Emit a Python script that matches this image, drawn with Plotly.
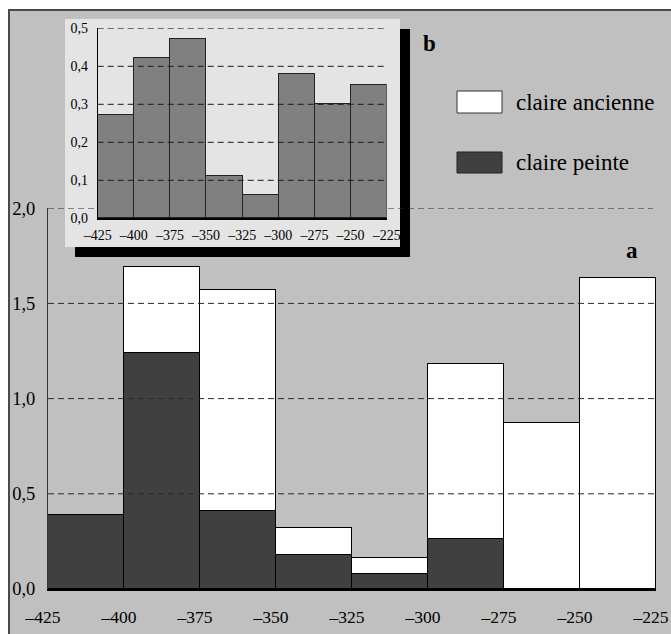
import plotly.graph_objects as go

# ---- data ----
bin_edges = [-425, -400, -375, -350, -325, -300, -275, -250, -225]
claire_peinte = [0.39, 1.24, 0.41, 0.18, 0.08, 0.26, 0.0, 0.0]
claire_ancienne = [0.0, 0.45, 1.16, 0.14, 0.08, 0.92, 0.87, 1.63]
inset_values = [0.27, 0.42, 0.47, 0.11, 0.06, 0.38, 0.30, 0.35]
main_yticks = [0.0, 0.5, 1.0, 1.5, 2.0]
main_yticklabels = ["0,0", "0,5", "1,0", "1,5", "2,0"]
inset_yticks = [0.0, 0.1, 0.2, 0.3, 0.4, 0.5]
inset_yticklabels = ["0,0", "0,1", "0,2", "0,3", "0,4", "0,5"]
xtick_labels = ["–425", "–400", "–375", "–350", "–325", "–300", "–275", "–250", "–225"]

W, H = 671, 634
def px(x): return x / W
def py(y): return 1 - y / H

centers = [(a + b) / 2 for a, b in zip(bin_edges[:-1], bin_edges[1:])]
widths = [b - a for a, b in zip(bin_edges[:-1], bin_edges[1:])]

FONT = "Liberation Serif, Times New Roman, serif"

fig = go.Figure()
fig.add_trace(go.Bar(x=centers, y=claire_peinte, width=widths, name="claire peinte",
                     marker=dict(color="#404040", line=dict(color="#000", width=1)),
                     xaxis="x", yaxis="y", showlegend=False))
fig.add_trace(go.Bar(x=centers, y=claire_ancienne, width=widths, name="claire ancienne",
                     marker=dict(color="#ffffff", line=dict(color="#000", width=1)),
                     xaxis="x", yaxis="y", showlegend=False))
fig.add_trace(go.Bar(x=centers, y=inset_values, width=widths, name="inset",
                     marker=dict(color="#808080", line=dict(color="#222", width=1)),
                     xaxis="x2", yaxis="y2", showlegend=False))

DASH = "6px,4px"
shapes = []
# outer gray frame
shapes.append(dict(type="rect", xref="paper", yref="paper", x0=px(9), x1=px(690), y0=py(660), y1=py(10),
                   fillcolor="#c0c0c0", line=dict(color="#4a4a4a", width=2), layer="below"))
# 2,0 gridline (under the inset)
shapes.append(dict(type="line", xref="x", yref="y", x0=bin_edges[0], x1=bin_edges[-1] - 1,
                   y0=main_yticks[-1], y1=main_yticks[-1],
                   line=dict(color="#2a2a2a", width=1, dash=DASH), layer="below"))
# inset shadow + panel
shapes.append(dict(type="rect", xref="paper", yref="paper", x0=px(75), x1=px(410), y0=py(257), y1=py(29),
                   fillcolor="#000", line=dict(width=0), layer="below"))
shapes.append(dict(type="rect", xref="paper", yref="paper", x0=px(65), x1=px(400), y0=py(247), y1=py(19),
                   fillcolor="#e4e4e4", line=dict(width=0), layer="below"))
# main gridlines above bars
for v in main_yticks[1:-1]:
    shapes.append(dict(type="line", xref="x", yref="y", x0=bin_edges[0], x1=bin_edges[-1],
                       y0=v, y1=v, line=dict(color="#2a2a2a", width=1, dash=DASH), layer="above"))
# inset gridlines
for v in inset_yticks[1:]:
    shapes.append(dict(type="line", xref="x2", yref="y2", x0=bin_edges[0], x1=bin_edges[-1] - 1,
                       y0=v, y1=v, line=dict(color="#1a1a1a", width=1, dash=DASH), layer="above"))
# legend boxes
shapes.append(dict(type="rect", xref="paper", yref="paper", x0=px(457), x1=px(502), y0=py(113), y1=py(91),
                   fillcolor="#ffffff", line=dict(color="#333", width=1)))
shapes.append(dict(type="rect", xref="paper", yref="paper", x0=px(457), x1=px(502), y0=py(173), y1=py(152),
                   fillcolor="#404040", line=dict(color="#222", width=1)))

annotations = [
    dict(text="claire ancienne", x=px(514), y=py(102), xref="paper", yref="paper", xanchor="left",
         yanchor="middle", showarrow=False, font=dict(family=FONT, size=23, color="#000")),
    dict(text="claire peinte", x=px(514), y=py(163), xref="paper", yref="paper", xanchor="left",
         yanchor="middle", showarrow=False, font=dict(family=FONT, size=23, color="#000")),
    dict(text="<b>b</b>", x=px(429), y=py(43), xref="paper", yref="paper", xanchor="center",
         yanchor="middle", showarrow=False, font=dict(family=FONT, size=23, color="#000")),
    dict(text="<b>a</b>", x=px(632), y=py(250), xref="paper", yref="paper", xanchor="center",
         yanchor="middle", showarrow=False, font=dict(family=FONT, size=23, color="#000")),
]

fig.update_layout(
    width=W, height=H, margin=dict(l=0, r=0, t=0, b=0, autoexpand=False),
    paper_bgcolor="#ffffff", plot_bgcolor="rgba(0,0,0,0)",
    barmode="stack", bargap=0,
    shapes=shapes, annotations=annotations,
    xaxis=dict(domain=[px(48), px(656)], range=[bin_edges[0], bin_edges[-1]], automargin=False,
               tickvals=bin_edges, ticktext=xtick_labels, showgrid=False, zeroline=False,
               showline=True, linecolor="#000", linewidth=1.5, ticks="", ticklabelstandoff=11,
               ticklabelshift=-5, ticklabeloverflow="allow",
               tickfont=dict(family=FONT, size=17.5, color="#000"), anchor="y"),
    yaxis=dict(domain=[py(589), py(208.2)], range=[0, 2.0], automargin=False,
               tickvals=main_yticks, ticktext=main_yticklabels, showgrid=False, zeroline=False,
               showline=True, linecolor="#333", linewidth=1, ticks="", ticklabelstandoff=8,
               ticklabeloverflow="allow",
               tickfont=dict(family=FONT, size=18.5, color="#000"), anchor="x"),
    xaxis2=dict(domain=[px(97.7), px(386.7)], range=[bin_edges[0], bin_edges[-1]], automargin=False,
                tickvals=bin_edges, ticktext=xtick_labels, showgrid=False, zeroline=False,
                showline=True, linecolor="#000", linewidth=1.5, ticks="", ticklabelstandoff=3,
                ticklabeloverflow="allow",
                tickfont=dict(family=FONT, size=14, color="#000"), anchor="y2"),
    yaxis2=dict(domain=[py(218.3), py(28.3)], range=[0, 0.5], automargin=False,
                tickvals=inset_yticks, ticktext=inset_yticklabels, showgrid=False, zeroline=False,
                showline=True, linecolor="#000", linewidth=1, ticks="", ticklabelstandoff=6,
                ticklabeloverflow="allow",
                tickfont=dict(family=FONT, size=14, color="#000"), anchor="x2"),
)

fig.write_html("out.html", config={"displayModeBar": False},
               post_script="document.body.style.margin='0';document.body.style.overflow='hidden';")
